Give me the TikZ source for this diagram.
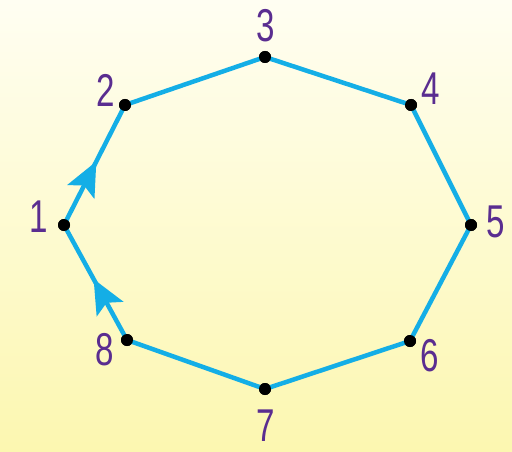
\documentclass[tikz,border=0pt]{standalone}
\usepackage{fontspec}
\setmainfont{Liberation Sans}
\usetikzlibrary{arrows.meta,decorations.markings}
\definecolor{bgtop}{HTML}{FFFEF2}
\definecolor{bgbot}{HTML}{FCF7B0}
\definecolor{edgec}{HTML}{14AEE6}
\definecolor{labc}{HTML}{5A2D90}
\tikzset{
  vtx/.style={circle,fill=black,inner sep=0pt,minimum size=12pt},
  lab/.style={text=labc,inner sep=0pt,font=\fontsize{46}{46}\selectfont,xscale=0.72},
  edge/.style={draw=edgec,line width=4.5pt,line join=round},
  arrowmark/.style={postaction={decorate,decoration={markings,
     mark=at position #1 with {\arrow[edgec]{Stealth[length=34pt,width=30pt,inset=7pt]}}}}}
}
\begin{document}
\begin{tikzpicture}[x=1pt,y=-1pt]
\shade[top color=bgtop,bottom color=bgbot] (0,0) rectangle (512,452);
\useasboundingbox (0,0) rectangle (512,452);
\node[vtx] (p1) at (64,225) {};
\node[vtx] (p2) at (125,105) {};
\node[vtx] (p3) at (265,57) {};
\node[vtx] (p4) at (411,105) {};
\node[vtx] (p5) at (471,225) {};
\node[vtx] (p6) at (410,341) {};
\node[vtx] (p7) at (265,389) {};
\node[vtx] (p8) at (127,340) {};
\draw[edge] (p2.center) -- (p3.center) -- (p4.center) -- (p5.center) -- (p6.center) -- (p7.center) -- (p8.center);
\path[edge,arrowmark=0.53] (p8.center) -- (p1.center);
\path[edge,arrowmark=0.53] (p1.center) -- (p2.center);
\foreach \i in {1,...,8} {\fill (p\i) circle (6pt);}
\node[lab] (l1) at (39,217) {1};
\node[lab] (l2) at (106,90) {2};
\node[lab] (l3) at (266,26) {3};
\node[lab] (l4) at (431,89) {4};
\node[lab] (l5) at (496,222) {5};
\node[lab] (l6) at (430,356) {6};
\node[lab] (l7) at (266,426) {7};
\node[lab] (l8) at (105,350) {8};
\end{tikzpicture}
\end{document}
